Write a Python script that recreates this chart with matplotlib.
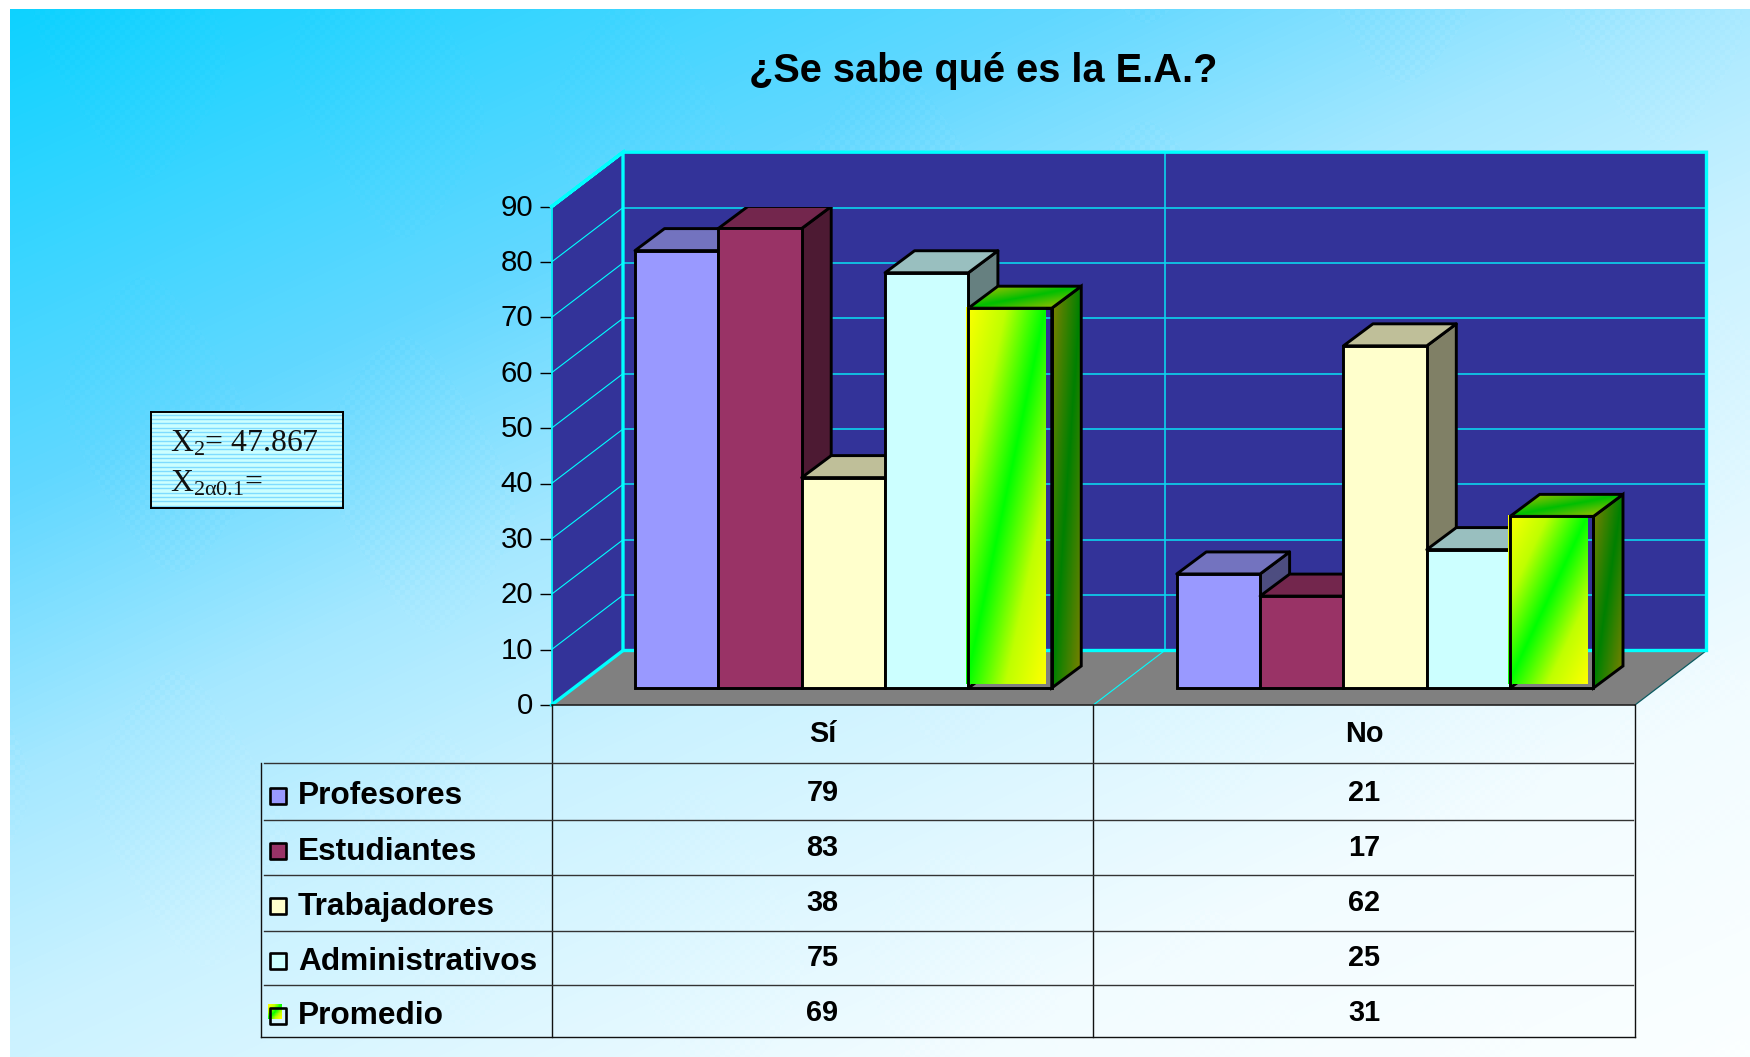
import numpy as np
import matplotlib
matplotlib.use("Agg")
import matplotlib.pyplot as plt
from matplotlib.colors import LinearSegmentedColormap
from matplotlib.patches import Polygon
from matplotlib.transforms import ScaledTranslation

plt.rcParams['font.family'] = ['Liberation Sans', 'DejaVu Sans']
plt.rcParams['mathtext.fontset'] = 'custom'
plt.rcParams['mathtext.rm'] = 'Liberation Serif'
plt.rcParams['mathtext.it'] = 'Liberation Serif'

categories = ['Sí', 'No']
series = ['Profesores', 'Estudiantes', 'Trabajadores', 'Administrativos', 'Promedio']
# numbers printed in the table
si_values = [79, 83, 38, 75, 69]
no_values = [21, 17, 62, 25, 31]
# bar heights as they read on the axis (the table rounds them)
si_heights = [79, 83, 38, 75, 68.6]
no_heights = [20.6, 16.6, 61.8, 25, 31]
y_ticks = [0, 10, 20, 30, 40, 50, 60, 70, 80, 90]
title = '¿Se sabe qué es la E.A.?'
box_lines = [r'$\mathrm{X}_{2}$= 47.867', r'$\mathrm{X}_{2\alpha 0.1}$=']

W, H = 1750, 1057
colors = ['#9999FF', '#993366', '#FFFFCC', '#CCFFFF', None]


def rect(x0, y0, x1, y1):
    # pixel box (top-left origin) to figure fractions
    return [x0 / W, 1 - y1 / H, (x1 - x0) / W, (y1 - y0) / H]


def shade(c, f):
    return tuple(v * f for v in matplotlib.colors.to_rgb(c))


fig = plt.figure(figsize=(17.5, 10.57), dpi=100, facecolor='white')

# background with a faint halftone look
bg = fig.add_axes(rect(10, 9, W, H), zorder=-5)
bg.axis('off')
px, py = np.meshgrid(np.arange(10, W), np.arange(9, H))
tt = (0.76 * px / W + py / H) / 1.76
mask = np.sin(px / 95 + py / 140) * np.sin(px / 70 - py / 110) > 0.15
check = ((px // 5 + py // 5) % 2) * 2 - 1
tt = tt + 0.008 * check * mask
bg_cmap = LinearSegmentedColormap.from_list(
    'bg', [(0, '#0CD2FF'), (0.27, '#62D8FF'), (0.42, '#A5E8FF'), (0.55, '#CAF2FF'), (0.8, '#F2FCFF'), (1, '#FBFFFF')])
bg.imshow(tt, cmap=bg_cmap, vmin=0, vmax=1, aspect='auto', interpolation='nearest')

# plot axes: front plane of the 3D box
x0_px, x1_px, y0_px, y90_px = 551.5, 1635, 705, 206.7
ax = fig.add_axes(rect(x0_px, y90_px, x1_px, y0_px), zorder=1)
ax.patch.set_visible(False)
ax.set_xlim(0, 2)
ax.set_ylim(0, 90)
cat_px = (x1_px - x0_px) / 2
val_px = (y0_px - y90_px) / 90
wall_dx, wall_dy = 71.5 / cat_px, 54.5 / val_px
front_dx, front_dy = 21 / cat_px, 17 / val_px
bar_dx, bar_dy = 29.5 / cat_px, 22 / val_px
bar_w = 1 / 6.5

for s in ['top', 'right', 'bottom']:
    ax.spines[s].set_visible(False)
ax.spines['left'].set_color('#00FFFF')
ax.spines['left'].set_linewidth(1.2)
ax.set_xticks([])
ax.set_yticks(y_ticks)
ax.tick_params(axis='y', length=8.6, width=1, color='black', pad=4.5, labelsize=21.2)
for lab in ax.get_yticklabels():
    lab.set_transform(lab.get_transform() + ScaledTranslation(0, 1.5 / 72, fig.dpi_scale_trans))

# walls and floor
cyan = '#00FFFF'
grid_c = '#0CD4EE'
ax.add_patch(Polygon([(0, 0), (wall_dx, wall_dy), (wall_dx, 90 + wall_dy), (0, 90)],
                     fc='#333399', ec='none', clip_on=False, zorder=1))
ax.add_patch(Polygon([(wall_dx, wall_dy), (2 + wall_dx, wall_dy), (2 + wall_dx, 90 + wall_dy), (wall_dx, 90 + wall_dy)],
                     fc='#333399', ec='none', clip_on=False, zorder=1))
ax.add_patch(Polygon([(0, 0), (2, 0), (2 + wall_dx, wall_dy), (wall_dx, wall_dy)],
                     fc='#808080', ec='none', clip_on=False, zorder=1))
for v in y_ticks[1:-1]:
    ax.plot([0, wall_dx], [v, v + wall_dy], color=cyan, lw=0.8, clip_on=False, zorder=2)
for v in y_ticks[1:-1]:
    ax.plot([wall_dx, 2 + wall_dx], [v + wall_dy, v + wall_dy], color=grid_c, lw=1.2, clip_on=False, zorder=2)
ax.plot([1 + wall_dx, 1 + wall_dx], [wall_dy, 90 + wall_dy], color=grid_c, lw=1.2, clip_on=False, zorder=2)
ax.plot([1, 1 + wall_dx], [0, wall_dy], color=cyan, lw=0.8, clip_on=False, zorder=2)
ax.plot([2, 2 + wall_dx], [0, wall_dy], color='#0B5A60', lw=0.9, clip_on=False, zorder=2)
ax.plot([0, wall_dx, wall_dx, 2 + wall_dx, 2 + wall_dx, wall_dx, 0],
        [90, 90 + wall_dy, wall_dy, wall_dy, 90 + wall_dy, 90 + wall_dy, 90],
        color=cyan, lw=2.4, clip_on=False, zorder=3, solid_joinstyle='miter')
ax.plot([0, wall_dx], [0, wall_dy], color=cyan, lw=2.4, clip_on=False, zorder=3)
ax.plot([0, 2], [0, 0], color='#222222', lw=1.2, clip_on=False, zorder=3)

# gradient for the last series
grad_front = LinearSegmentedColormap.from_list('gf', [(0, '#00FF00'), (0.5, '#BFFF00'), (1, '#FFFF00')])
grad_top = LinearSegmentedColormap.from_list('gt', ['#00BF00', '#BFBF00'])
grad_side = LinearSegmentedColormap.from_list('gs', ['#008000', '#808000'])
edge_lw = 2.1


def diag(n=120, m=200):
    u, v = np.meshgrid(np.linspace(0, 1, n), np.linspace(0, 1, m))
    return np.abs(u + v - 1)


def draw_bar(cat, k, val, z):
    left = cat + 0.5 + (k - 2.5) * bar_w + front_dx
    right = left + bar_w
    base = front_dy
    top = base + val
    c = colors[k]
    side_pts = [(right, base), (right + bar_dx, base + bar_dy), (right + bar_dx, top + bar_dy), (right, top)]
    top_pts = [(left, top), (right, top), (right + bar_dx, top + bar_dy), (left + bar_dx, top + bar_dy)]
    if c is not None:
        ax.add_patch(Polygon(side_pts, fc=shade(c, 0.5), ec='black', lw=edge_lw, zorder=z, joinstyle='round'))
        ax.add_patch(Polygon(top_pts, fc=shade(c, 0.75), ec='black', lw=edge_lw, zorder=z + 0.1, joinstyle='round'))
        ax.bar(left, val, bar_w, bottom=base, align='edge', color=c, edgecolor='black', lw=edge_lw, zorder=z + 0.2)
        return
    # Promedio: gradient images slightly off the outlines, like the source
    ax.add_patch(Polygon(side_pts, fc='none', ec='black', lw=edge_lw, zorder=z + 0.05))
    im = ax.imshow(diag(24, 120), cmap=grad_side, aspect='auto', zorder=z,
                   extent=[right, right + bar_dx, base, top + bar_dy], vmin=0, vmax=1)
    im.set_clip_path(Polygon(side_pts, transform=ax.transData))
    ax.add_patch(Polygon(top_pts, fc='none', ec='black', lw=edge_lw, zorder=z + 0.15))
    im = ax.imshow(diag(60, 20), cmap=grad_top, aspect='auto', zorder=z + 0.1,
                   extent=[left, right + bar_dx, top, top + bar_dy], vmin=0, vmax=1)
    im.set_clip_path(Polygon(top_pts, transform=ax.transData))
    ax.imshow(diag(), cmap=grad_front, aspect='auto', zorder=z + 0.2, vmin=0, vmax=1,
              extent=[left - 2 / cat_px, right - 5.5 / cat_px, base + 4.5 / val_px, top + 1.5 / val_px])
    ax.bar(left, val, bar_w, bottom=base, align='edge', fill=False, edgecolor='black', lw=edge_lw, zorder=z + 0.3)


for cat, vals in enumerate([si_heights, no_heights]):
    for k, val in enumerate(vals):
        draw_bar(cat, k, val, 10 + k)
ax.set_xlim(0, 2)
ax.set_ylim(0, 90)

# data table under the plot; y runs in rows from the header's lower edge
tx0 = 261
ty0, ty1 = 705, 1037
row_px = 55
tab = fig.add_axes(rect(tx0, ty0, x1_px, ty1), zorder=2)
tab.patch.set_visible(False)
tab.axis('off')
lab_left = (tx0 - x0_px) / cat_px
ymin, ymax = (ty0 - 763) / row_px, (ty1 - 763) / row_px
row_lines = [0, 1.04, 2.04, 3.05, 4.04]
line_kw = dict(color='#111111', lw=1.0, clip_on=False)
for xv in [0, 1, 2]:
    tab.plot([xv, xv], [ymin, ymax], **line_kw)
tab.plot([lab_left, lab_left], [0, ymax], **line_kw)
tab.plot([lab_left, 2], [ymax, ymax], **line_kw)
for r in row_lines:
    tab.plot([lab_left + 3 / cat_px, 2 - 2 / cat_px], [r, r], color='#333333', lw=1.0, clip_on=False)
for i, c in enumerate(categories):
    tab.text(i + 0.5, (741.7 - 763) / row_px, c, ha='center', va='baseline', fontsize=20.8, fontweight='bold')
key_x = (278 - x0_px) / cat_px
for r, name in enumerate(series):
    tab.text((298 - x0_px) / cat_px, r + (804.5 - 763) / row_px, name, ha='left', va='baseline',
             fontsize=22.8, fontweight='bold')
    tab.text(0.5, r + (801 - 763) / row_px, si_values[r], ha='center', va='baseline', fontsize=20.8, fontweight='bold')
    tab.text(1.5, r + (801 - 763) / row_px, no_values[r], ha='center', va='baseline', fontsize=20.8, fontweight='bold')
    ky = r + (796 - 763) / row_px
    if colors[r] is not None:
        tab.scatter([key_x], [ky], marker='s', s=144, fc=colors[r], ec='black', lw=1.9, zorder=4)
    else:
        tab.imshow(diag(10, 10), cmap=grad_front, aspect='auto', zorder=3, vmin=0, vmax=1,
                   extent=[key_x - 10 / cat_px, key_x + 4 / cat_px,
                           ky + 3 / row_px, ky - 11 / row_px])
        tab.scatter([key_x], [ky], marker='s', s=144, fc='none', ec='black', lw=1.9, zorder=4)
tab.set_xlim(lab_left, 2)
tab.set_ylim(ymax, ymin)

# text box with the striped fill
box = fig.add_axes(rect(150.5, 411.5, 342.5, 507.5), zorder=3)
box.set_xlim(0, 1)
box.set_ylim(0, 96)
box.set_facecolor('#CCFFFF')
box.hlines(np.arange(2, 96, 4.33), 0, 1, color='#7FDCFF', lw=1.0)
box.set_xticks([])
box.set_yticks([])
for s in box.spines.values():
    s.set_linewidth(1.4)
box.text(19 / 192, 96 - 40, box_lines[0], fontsize=22.8, family='Liberation Serif', va='baseline', color='#111111')
box.text(19 / 192, 96 - 79.5, box_lines[1], fontsize=22.8, family='Liberation Serif', va='baseline', color='#111111')

fig.text(983 / W, 1 - 71.5 / H, title, ha='center', va='center', fontsize=28.6, fontweight='bold')

fig.savefig('out.png', dpi=100)
